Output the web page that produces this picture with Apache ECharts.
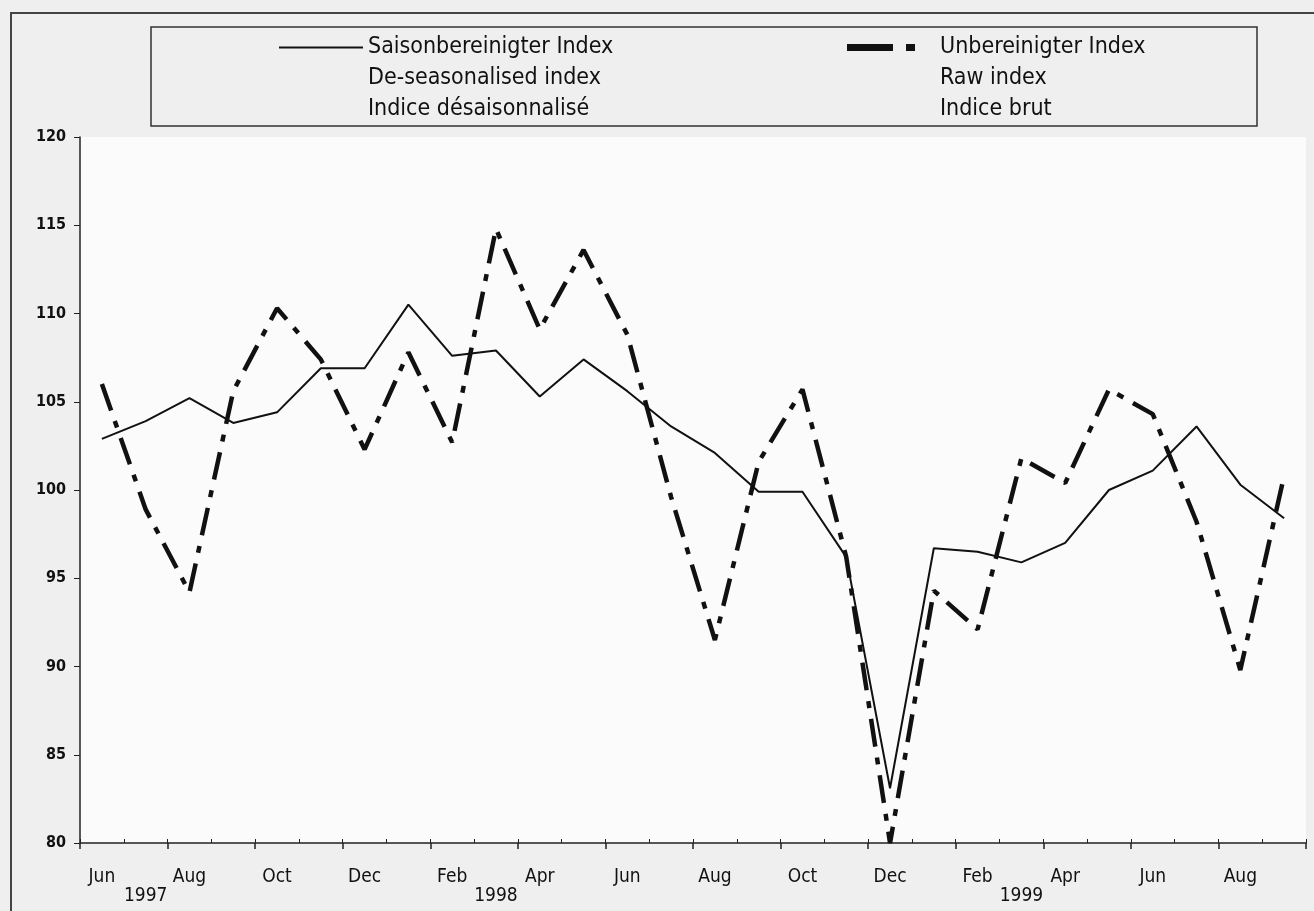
<!DOCTYPE html>
<html>
<head>
<meta charset="utf-8">
<script src="https://cdn.jsdelivr.net/npm/echarts@6/dist/echarts.min.js"></script>
<style>
  html, body { margin: 0; padding: 0; background: #efefef; }
  #chart { width: 1314px; height: 911px; }
</style>
</head>
<body>
<div id="chart"></div>
<script>
// months Jun 1997 .. Sep 1999
const categories = [
  "Jun 97", "Jul 97", "Aug 97", "Sep 97", "Oct 97", "Nov 97", "Dec 97",
  "Jan 98", "Feb 98", "Mar 98", "Apr 98", "May 98", "Jun 98", "Jul 98",
  "Aug 98", "Sep 98", "Oct 98", "Nov 98", "Dec 98", "Jan 99", "Feb 99",
  "Mar 99", "Apr 99", "May 99", "Jun 99", "Jul 99", "Aug 99", "Sep 99"
];
const yearLabels = [
  "", "1997", "", "", "", "", "", "", "", "1998", "", "", "", "",
  "", "", "", "", "", "", "", "1999", "", "", "", "", "", ""
];
const seasonAdjusted = [
  102.9, 103.9, 105.2, 103.8, 104.4, 106.9, 106.9, 110.5, 107.6, 107.9,
  105.3, 107.4, 105.6, 103.6, 102.1, 99.9, 99.9, 96.2, 83.1, 96.7,
  96.5, 95.9, 97.0, 100.0, 101.1, 103.6, 100.3, 98.4
];
const rawIndex = [
  106.0, 98.9, 94.2, 105.6, 110.3, 107.4, 102.3, 107.8, 102.7, 114.8,
  109.1, 113.6, 108.8, 99.6, 91.5, 101.6, 105.7, 96.2, 80.0, 94.3,
  92.1, 101.8, 100.4, 105.7, 104.3, 98.2, 89.8, 100.8
];
const legendNames = ["Saisonbereinigter Index", "Unbereinigter Index"];
const legendLines2 = ["De-seasonalised index", "Raw index"];
const legendLines3 = ["Indice désaisonnalisé", "Indice brut"];

const font = "'Liberation Sans Narrow', 'Arial Narrow', 'DejaVu Sans Condensed', sans-serif";
const ink = "#111";

const chartDom = document.getElementById("chart");
const myChart = echarts.init(chartDom);

const option = {
  backgroundColor: "#efefef",
  animation: false,
  textStyle: { fontFamily: font, color: ink },
  grid: {
    left: 80,
    right: 8,
    top: 137,
    bottom: 68,
    show: true,
    backgroundColor: "#fbfbfb",
    borderWidth: 0,
  },
  legend: [
    {
      data: [legendNames[0]],
      left: 279,
      top: 36,
      padding: 0,
      icon: "path://M0,0h84v2h-84z",
      itemWidth: 84,
      itemHeight: 2,
      textStyle: { fontFamily: font, fontSize: 23, color: ink },
    },
    {
      data: [legendNames[1]],
      left: 847,
      top: 36,
      padding: 0,
      icon: "path://M0,0h46v7h-46zM59,0h9v7h-9z",
      itemWidth: 68,
      itemHeight: 7,
      textStyle: { fontFamily: font, fontSize: 23, color: ink, padding: [0, 0, 0, 20] },
    },
  ],
  graphic: [
    {
      type: "polyline",
      shape: { points: [[11, 911], [11, 13], [1314, 13]] },
      style: { stroke: "#444", lineWidth: 2, fill: null },
    },
    {
      type: "rect",
      z: 0,
      shape: { x: 151, y: 27, width: 1106, height: 99 },
      style: { fill: "#efefef", stroke: "#333", lineWidth: 1.5 },
    },
    {
      type: "text", x: 368, y: 78,
      style: { text: legendLines2[0], font: "23px " + font, fill: ink, verticalAlign: "middle" },
    },
    {
      type: "text", x: 368, y: 109,
      style: { text: legendLines3[0], font: "23px " + font, fill: ink, verticalAlign: "middle" },
    },
    {
      type: "text", x: 940, y: 78,
      style: { text: legendLines2[1], font: "23px " + font, fill: ink, verticalAlign: "middle" },
    },
    {
      type: "text", x: 940, y: 109,
      style: { text: legendLines3[1], font: "23px " + font, fill: ink, verticalAlign: "middle" },
    },
  ],
  xAxis: [
    {
      type: "category",
      data: categories,
      boundaryGap: true,
      axisLine: { lineStyle: { color: "#222", width: 1.5 } },
      axisTick: {
        show: true,
        interval: (i) => i % 2 === 0,
        length: 6,
        lineStyle: { color: "#222", width: 1.5 },
      },
      axisLabel: {
        interval: 1,
        margin: 25,
        fontSize: 19,
        color: ink,
        fontFamily: font,
        formatter: (v) => v.split(" ")[0],
      },
    },
    {
      type: "category",
      data: categories,
      boundaryGap: true,
      position: "bottom",
      axisLine: { show: false },
      axisTick: {
        show: true,
        inside: true,
        interval: 0,
        length: 4,
        lineStyle: { color: "#222", width: 1 },
      },
      axisLabel: {
        interval: 0,
        margin: 44,
        fontSize: 19,
        color: ink,
        fontFamily: font,
        formatter: (v, i) => yearLabels[i],
      },
    },
  ],
  yAxis: {
    type: "value",
    min: 80,
    max: 120,
    interval: 5,
    splitLine: { show: false },
    axisLine: { show: true, lineStyle: { color: "#222", width: 1.5 } },
    axisTick: { show: true, length: 6, lineStyle: { color: "#222" } },
    axisLabel: { margin: 14, fontSize: 16, fontWeight: "bold", color: ink, fontFamily: font },
  },
  series: [
    {
      name: legendNames[0],
      type: "line",
      data: seasonAdjusted,
      showSymbol: false,
      color: "#111",
      lineStyle: { color: "#111", width: 2 },
      z: 2,
    },
    {
      name: legendNames[1],
      type: "line",
      data: rawIndex,
      showSymbol: false,
      color: "#111",
      lineStyle: { color: "#111", width: 4.5, type: [28, 11, 7, 11] },
      z: 3,
    },
  ],
};

option && myChart.setOption(option);
</script>
</body>
</html>
